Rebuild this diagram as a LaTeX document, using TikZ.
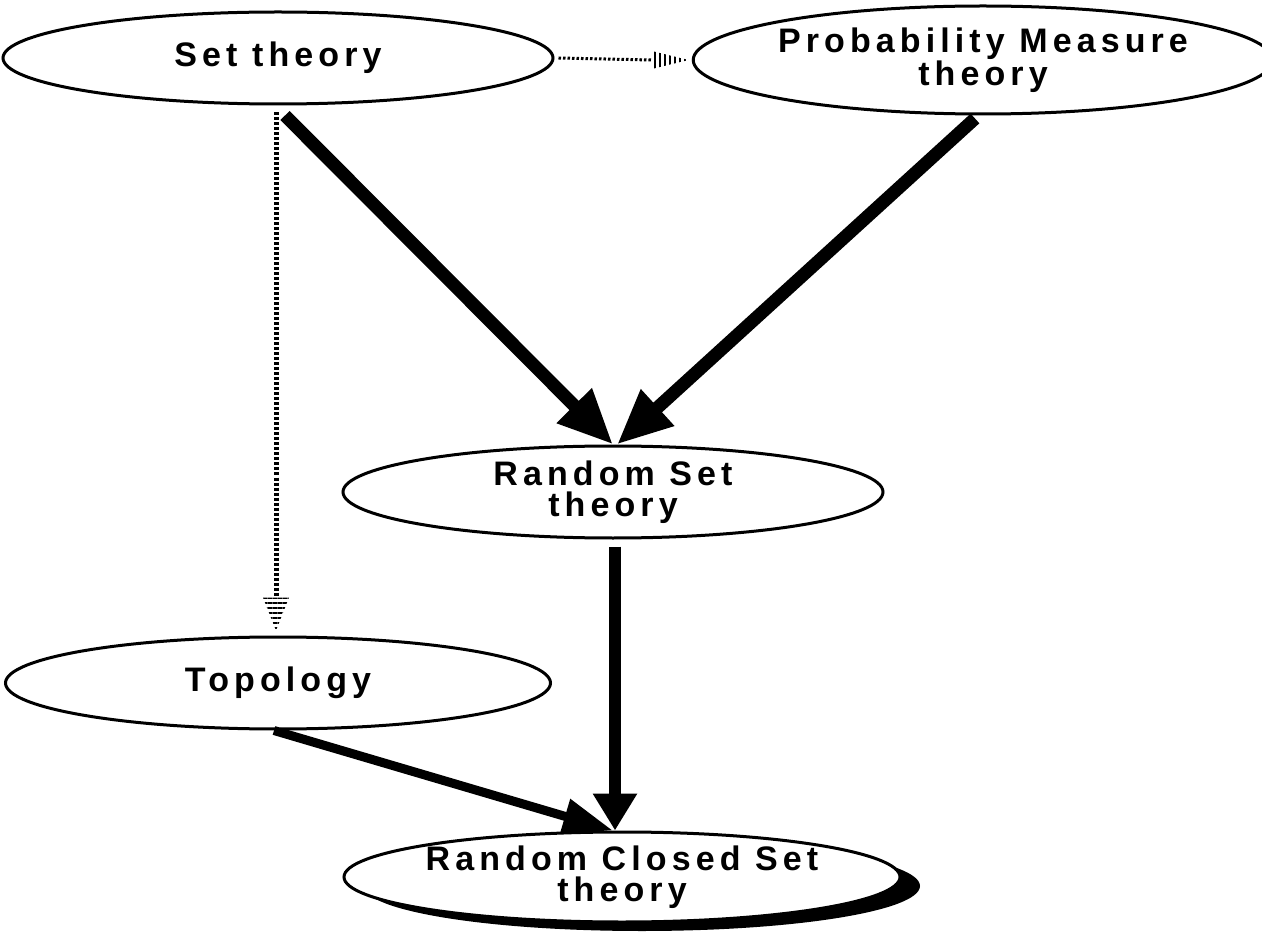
\documentclass[tikz,border=0pt]{standalone}
\usepackage{fontspec}
\setmainfont{Liberation Sans}
\usetikzlibrary{shapes.geometric, arrows.meta, patterns.meta, shadows, calc}
\begin{document}
\begin{tikzpicture}[x=1pt,y=-1pt,
  ell/.style={draw, line width=3pt, ellipse, inner sep=0pt, fill=white, align=center,
    font=\fontsize{34}{31}\selectfont\bfseries\addfontfeatures{LetterSpace=15}},
  bigarrow/.style={line width=13pt, -{Triangle[length=55pt,width=46pt]}},
  midarrow/.style={line width=12pt, -{Triangle[length=37pt,width=42pt]}},
  thinarrow/.style={line width=9pt, -{Triangle[length=50pt,width=34pt]}},
  dotline/.style={line width=3pt, dash pattern=on 2.5pt off 2pt},
  dotvline/.style={line width=5pt, dash pattern=on 3pt off 2pt},
  vstripes/.style={pattern={Lines[angle=90,distance=5pt,line width=2.5pt]}},
  hstripes/.style={pattern={Lines[angle=0,distance=5pt,line width=2.5pt]}}
]
\useasboundingbox (0,0) rectangle (1262,933);

\node[ell, minimum width=550pt, minimum height=92pt] (set) at (278,58) {Set theory};
\node[ell, minimum width=545pt, minimum height=108pt] (prob) at (983,60) {Probability Measure\\theory};
\node[ell, minimum width=540pt, minimum height=92pt] (rset) at (613,492) {Random Set\\theory};
\node[ell, minimum width=545pt, minimum height=92pt] (topo) at (278,683) {Topology};
\node[ell, minimum width=556pt, minimum height=90pt,
  drop shadow={shadow xshift=20pt, shadow yshift=-9pt, fill=black, opacity=1}] (rcs) at (622,877) {Random Closed Set\\theory};

% dotted set -> prob
\draw[dotline] ([xshift=4pt]set.east) -- ([xshift=-40pt]prob.west);
\fill[vstripes] ([xshift=-40pt,yshift=-9pt]prob.west) -- ([xshift=-40pt,yshift=9pt]prob.west) -- ([xshift=-3pt]prob.west) -- cycle;

% dotted set -> topology
\draw[dotvline] ([xshift=-2pt,yshift=-7pt]set.south) -- ([xshift=-2pt,yshift=38pt]topo.north);
\fill[hstripes] ([xshift=-15pt,yshift=38pt]topo.north) -- ([xshift=11pt,yshift=38pt]topo.north) -- ([xshift=-2pt,yshift=5pt]topo.north) -- cycle;

% thick arrows
\draw[bigarrow] ([xshift=7pt,yshift=-10pt]set.south) -- (rset.north);
\draw[bigarrow] ([xshift=-8pt,yshift=-3pt]prob.south) -- ([xshift=4pt]rset.north);
\draw[midarrow] ([xshift=2pt,yshift=-7pt]rset.south) -- ([xshift=-7pt]rcs.north);
\draw[thinarrow] ([xshift=-4pt]topo.south) -- ([xshift=-9pt]rcs.north);
\end{tikzpicture}
\end{document}
